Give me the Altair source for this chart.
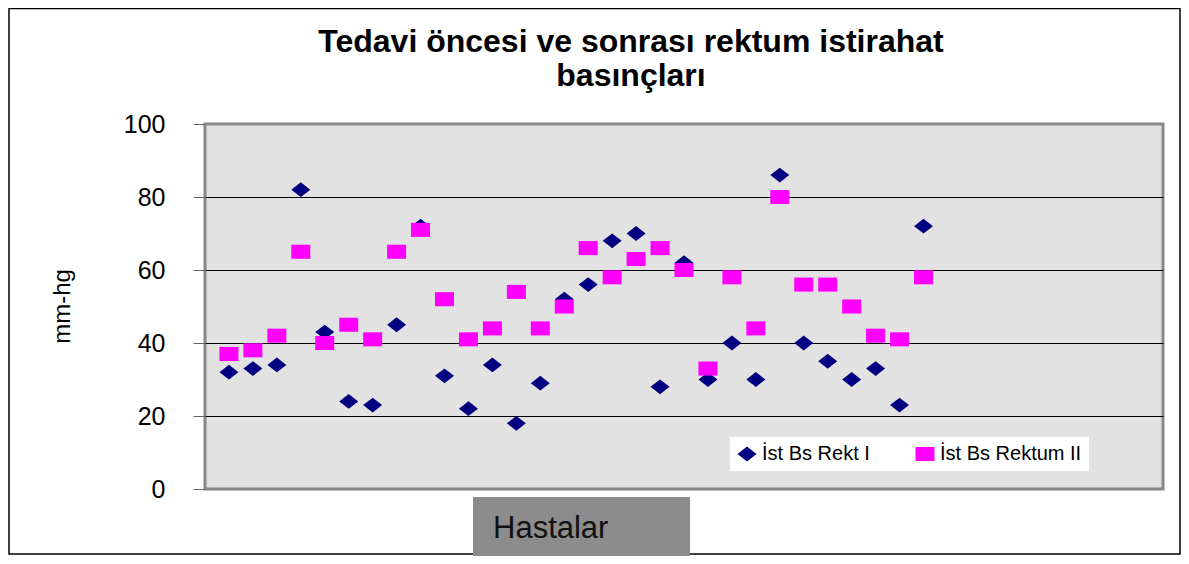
import altair as alt
import pandas as pd

patients = list(range(1, 31))
rekt_I = [32, 33, 34, 82, 43, 24, 23, 45, 72, 31, 22, 34, 18, 29, 52,
          56, 68, 70, 28, 62, 30, 40, 30, 86, 40, 35, 30, 33, 23, 72]
rektum_II = [37, 38, 42, 65, 40, 45, 41, 65, 71, 52, 41, 44, 54, 44, 50,
             66, 58, 63, 66, 60, 33, 58, 44, 80, 56, 56, 50, 42, 41, 58]
series_names = ["İst Bs Rekt I", "İst Bs Rektum II"]
title_lines = ["Tedavi öncesi ve sonrası rektum istirahat", "basınçları"]
y_title = "mm-hg"
x_title = "Hastalar"
y_ticks = [0, 20, 40, 60, 80, 100]

rows = []
for p, v in zip(patients, rekt_I):
    rows.append({"hasta": p, "deger": v, "seri": series_names[0]})
for p, v in zip(patients, rektum_II):
    rows.append({"hasta": p, "deger": v, "seri": series_names[1]})
df = pd.DataFrame(rows)

diamond = "M-1,0L0,-0.78L1,0L0,0.78Z"
rect = "M-1,-0.74H1V0.74H-1Z"

one = alt.Data(values=[{"a": 1}])

frame = alt.Chart(one).mark_rect(fill="white", fillOpacity=0, stroke="black", strokeWidth=1.5).encode(
    x=alt.value(-196), x2=alt.value(975), y=alt.value(-115.5), y2=alt.value(430)
)

xbox = alt.Chart(one).mark_rect(fill="#8c8c8c").encode(
    x=alt.value(268), x2=alt.value(485), y=alt.value(373), y2=alt.value(440)
)

xtext = alt.Chart(one).mark_text(
    text=x_title, font="Liberation Sans", fontSize=31, color="#111111",
    align="left", baseline="alphabetic"
).encode(x=alt.value(288), y=alt.value(414))

title = alt.Chart(one).mark_text(
    text=title_lines, font="Liberation Sans", fontSize=32, fontWeight="bold",
    color="#000000", align="center", baseline="alphabetic", lineHeight=34
).encode(x=alt.value(426), y=alt.value(-72))

points = alt.Chart(df).mark_point(filled=True, size=361, opacity=1).encode(
    x=alt.X("hasta:Q", scale=alt.Scale(domain=[0, 40], nice=False), axis=None),
    y=alt.Y("deger:Q", scale=alt.Scale(domain=[0, 100], nice=False),
            axis=alt.Axis(values=y_ticks, title=y_title, grid=True,
                          gridColor={"condition": {"test": "datum.value === 0 || datum.value === 100", "value": "#888888"}, "value": "#000000"},
                          gridWidth=1, domain=False, tickSize=12, tickColor="#666666",
                          labelFontSize=25, labelFont="Liberation Sans", labelColor="#000000",
                          labelPadding=28, titleFont="Liberation Sans", titleFontSize=24,
                          titleFontWeight="normal", titleColor="#000000",
                          titleX=-143, titleY=182, titleAngle=-90, titleBaseline="middle")),
    color=alt.Color("seri:N", scale=alt.Scale(domain=series_names, range=["#000080", "#ff00ff"]),
                    legend=alt.Legend(title=None, orient="none", legendX=525, legendY=313,
                                      direction="horizontal", fillColor="white",
                                      padding=7, labelFontSize=20, labelFont="Liberation Sans",
                                      labelColor="#000000", symbolSize=361, columnPadding=45,
                                      labelOffset=5, labelLimit=400, symbolStrokeWidth=0)),
    shape=alt.Shape("seri:N", scale=alt.Scale(domain=series_names, range=[diamond, rect]), legend=None),
    order=alt.Order("seri:N"),
)

chart = alt.layer(frame, xbox, xtext, title, points).properties(
    width=958, height=365,
    autosize=alt.AutoSizeParams(type="none"),
    padding={"left": 197, "top": 116, "right": 18, "bottom": 67},
).configure(background="white").configure_view(fill="#e2e2e2", stroke="#888888", strokeWidth=3)

chart.save("out.html", embed_options={"renderer": "svg", "actions": False})
